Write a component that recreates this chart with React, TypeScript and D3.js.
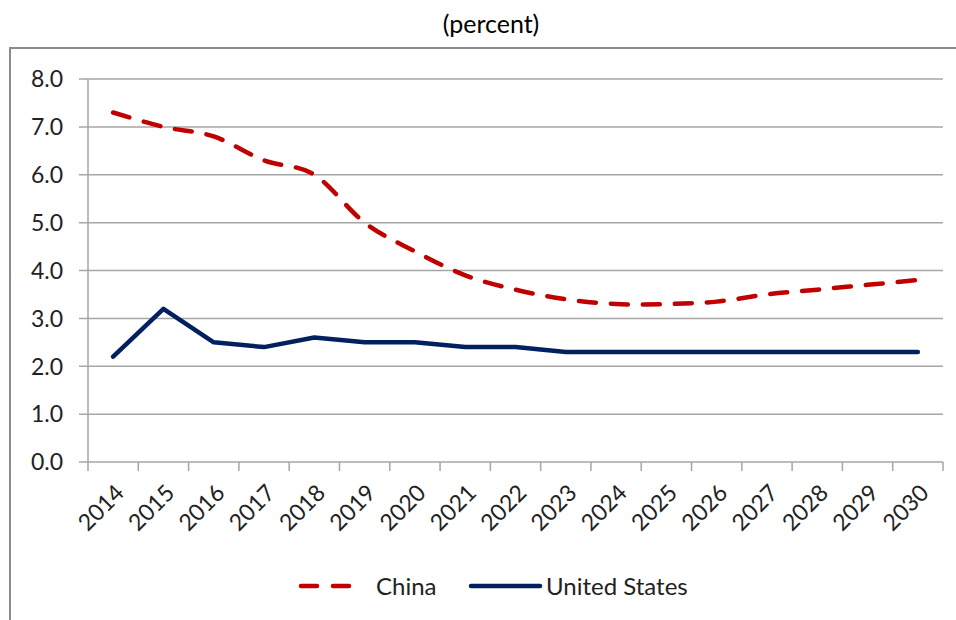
import { useEffect, useRef } from "react";
import * as d3 from "d3";

const years = ["2014", "2015", "2016", "2017", "2018", "2019", "2020", "2021", "2022", "2023", "2024", "2025", "2026", "2027", "2028", "2029", "2030"];
const china = [7.3, 7.0, 6.8, 6.3, 6.0, 5.0, 4.4, 3.9, 3.6, 3.4, 3.3, 3.3, 3.35, 3.5, 3.6, 3.7, 3.8];
const usa = [2.2, 3.2, 2.5, 2.4, 2.6, 2.5, 2.5, 2.4, 2.4, 2.3, 2.3, 2.3, 2.3, 2.3, 2.3, 2.3, 2.3];
const yTicks = [0, 1, 2, 3, 4, 5, 6, 7, 8];

const RED = "#C00000";
const NAVY = "#002060";
const FONT = "Lato, 'Open Sans', sans-serif";

export default function App() {
  const svgRef = useRef<SVGSVGElement>(null);

  useEffect(() => {
    if (!svgRef.current) return;
    const svg = d3.select(svgRef.current);
    svg.selectAll("*").remove();

    const left = 88, right = 943, top = 79, bottom = 462;

    const x = d3.scaleBand<string>().domain(years).range([left, right]);
    const y = d3.scaleLinear().domain([0, 8]).range([bottom, top]);
    const cx = (d: string) => (x(d) ?? 0) + x.bandwidth() / 2;

    // outer frame
    svg.append("path")
      .attr("d", "M10,640 L10,48 L970,48")
      .attr("fill", "none")
      .attr("stroke", "#8c8c8c")
      .attr("stroke-width", 2);

    svg.append("text")
      .attr("x", 491).attr("y", 33)
      .attr("text-anchor", "middle")
      .attr("font-family", FONT).attr("font-size", 25)
      .attr("fill", "#000")
      .text("(percent)");

    // gridlines + y labels
    const gy = svg.append("g");
    yTicks.forEach(t => {
      gy.append("line")
        .attr("x1", left - 9).attr("x2", right)
        .attr("y1", y(t)).attr("y2", y(t))
        .attr("stroke", "#a6a6a6").attr("stroke-width", 1.5);
      gy.append("text")
        .attr("x", 63).attr("y", y(t))
        .attr("dy", "0.36em")
        .attr("text-anchor", "end")
        .attr("font-family", FONT).attr("font-size", 23)
        .attr("fill", "#222")
        .text(t.toFixed(1));
    });

    // y axis line
    svg.append("line")
      .attr("x1", left).attr("x2", left)
      .attr("y1", top).attr("y2", bottom)
      .attr("stroke", "#a6a6a6").attr("stroke-width", 1.5);

    // x ticks at band boundaries
    const bounds = years.map(d => x(d) ?? 0).concat([right]);
    bounds.forEach(b => {
      svg.append("line")
        .attr("x1", b).attr("x2", b)
        .attr("y1", bottom).attr("y2", bottom + 9)
        .attr("stroke", "#a6a6a6").attr("stroke-width", 1.5);
    });

    years.forEach(d => {
      svg.append("text")
        .attr("transform", `translate(${cx(d) + 1},${bottom + 21}) rotate(-45)`)
        .attr("text-anchor", "end")
        .attr("dy", "0.7em")
        .attr("font-family", FONT).attr("font-size", 23)
        .attr("fill", "#222")
        .text(d);
    });

    const chinaLine = d3.line<number>()
      .x((_, i) => cx(years[i]))
      .y(v => y(v))
      .curve(d3.curveCardinal.tension(0));

    const usLine = d3.line<number>()
      .x((_, i) => cx(years[i]))
      .y(v => y(v));

    svg.append("path")
      .attr("d", usLine(usa) ?? "")
      .attr("fill", "none")
      .attr("stroke", NAVY)
      .attr("stroke-width", 4.5)
      .attr("stroke-linejoin", "round")
      .attr("stroke-linecap", "round");

    svg.append("path")
      .attr("d", chinaLine(china) ?? "")
      .attr("fill", "none")
      .attr("stroke", RED)
      .attr("stroke-width", 4.5)
      .attr("stroke-dasharray", "17 15")
      .attr("stroke-linecap", "round");

    // legend
    const ly = 586;
    svg.append("line")
      .attr("x1", 301).attr("x2", 356)
      .attr("y1", ly).attr("y2", ly)
      .attr("stroke", RED).attr("stroke-width", 4.5)
      .attr("stroke-dasharray", "16 16")
      .attr("stroke-linecap", "round");
    svg.append("text")
      .attr("x", 376).attr("y", ly).attr("dy", "0.36em")
      .attr("font-family", FONT).attr("font-size", 24)
      .attr("fill", "#222")
      .text("China");
    svg.append("line")
      .attr("x1", 471).attr("x2", 540)
      .attr("y1", ly).attr("y2", ly)
      .attr("stroke", NAVY).attr("stroke-width", 4.5)
      .attr("stroke-linecap", "round");
    svg.append("text")
      .attr("x", 546).attr("y", ly).attr("dy", "0.36em")
      .attr("font-family", FONT).attr("font-size", 24)
      .attr("fill", "#222")
      .text("United States");
  }, []);

  return (
    <svg
      ref={svgRef}
      width={956}
      height={620}
      style={{ position: "absolute", left: 0, top: 0, background: "#fff" }}
    />
  );
}
